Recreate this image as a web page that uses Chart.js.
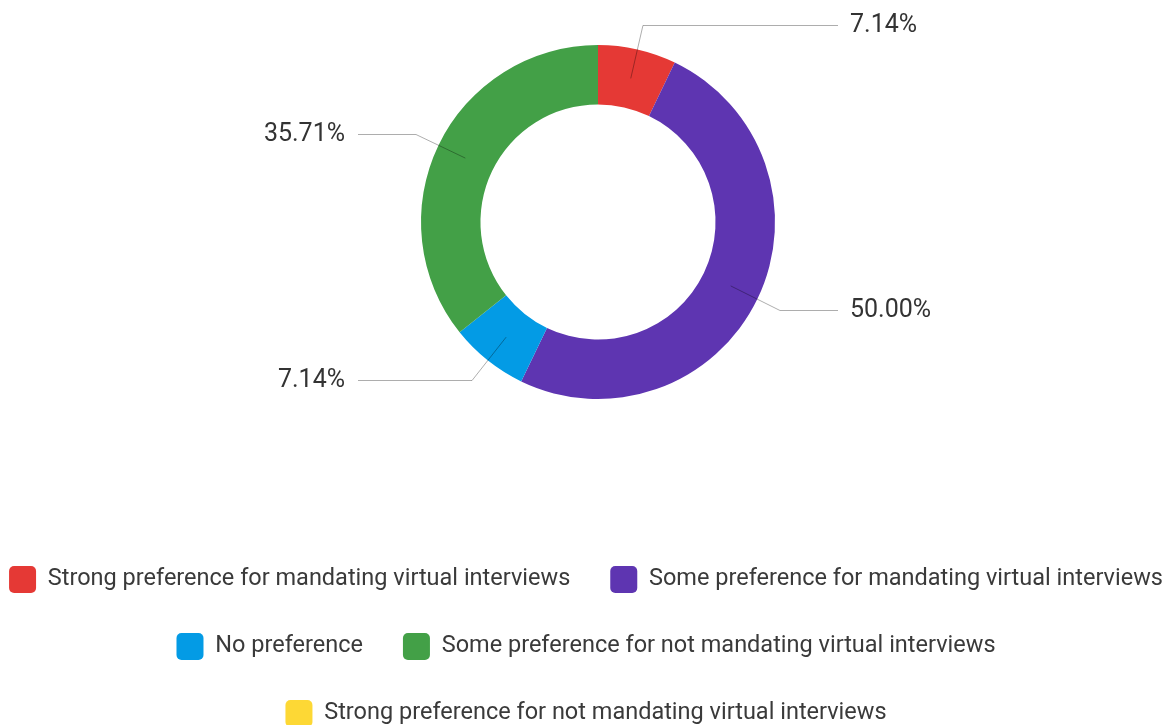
<!DOCTYPE html>
<html>
<head>
<meta charset="utf-8">
<script src="https://cdn.jsdelivr.net/npm/chart.js@4.4.1/dist/chart.umd.min.js"></script>
<style>
  html, body { margin: 0; padding: 0; background: #fff; }
  #wrap { width: 1164px; height: 725px; position: relative; }
</style>
</head>
<body>
<div id="wrap"><canvas id="c"></canvas></div>
<script>
const categories = [
  'Strong preference for mandating virtual interviews',
  'Some preference for mandating virtual interviews',
  'No preference',
  'Some preference for not mandating virtual interviews',
  'Strong preference for not mandating virtual interviews'
];
const values = [7.14, 50.00, 7.14, 35.71, 0];
const colors = ['#E53935', '#5E35B1', '#039BE5', '#43A047', '#FDD835'];

const FONT_FAMILY = 'Roboto, "Liberation Sans", Arial, sans-serif';
const LEGEND_FONT_SIZE = 23.5;
const LABEL_FONT_SIZE = 25;

// shift the plot area a little to the right of the legend's centre
const shiftArea = {
  id: 'shiftArea',
  afterLayout(chart) {
    chart.chartArea.left += 16;
    chart.chartArea.right += 16;
  }
};

const leaderLabels = {
  id: 'leaderLabels',
  afterDatasetsDraw(chart) {
    const ctx = chart.ctx;
    const meta = chart.getDatasetMeta(0);
    const data = chart.data.datasets[0].data;
    meta.data.forEach((arc, i) => {
      const v = data[i];
      if (!v) return;
      const p = arc.getProps(['x', 'y', 'startAngle', 'endAngle', 'innerRadius', 'outerRadius'], true);
      const mid = (p.startAngle + p.endAngle) / 2;
      const cos = Math.cos(mid), sin = Math.sin(mid);
      const r0 = (p.innerRadius + p.outerRadius) / 2;
      const r1 = p.outerRadius + 25;
      const x0 = p.x + cos * r0, y0 = p.y + sin * r0;
      const x1 = p.x + cos * r1;
      const y1 = Math.round(p.y + sin * r1) + 0.5;
      const right = cos >= 0;
      const x2 = p.x + (right ? 240 : -240);
      ctx.save();
      ctx.strokeStyle = 'rgba(0,0,0,0.32)';
      ctx.lineWidth = 1;
      ctx.beginPath();
      ctx.moveTo(x0, y0);
      ctx.lineTo(x1, y1);
      ctx.lineTo(x2, y1);
      ctx.stroke();
      ctx.font = LABEL_FONT_SIZE + 'px ' + FONT_FAMILY;
      ctx.fillStyle = '#333';
      ctx.textBaseline = 'middle';
      ctx.textAlign = right ? 'left' : 'right';
      ctx.fillText(v.toFixed(2) + '%', x2 + (right ? 12 : -13), y1);
      ctx.restore();
    });
  }
};

new Chart(document.getElementById('c'), {
  type: 'doughnut',
  data: {
    labels: categories,
    datasets: [{
      data: values,
      backgroundColor: colors,
      borderWidth: 0,
      hoverOffset: 0,
      clip: false
    }]
  },
  options: {
    responsive: true,
    maintainAspectRatio: false,
    animation: false,
    devicePixelRatio: 1,
    cutout: '66.4%',
    layout: { padding: { top: 45, bottom: -12, left: -43, right: -51 } },
    plugins: {
      tooltip: { enabled: false },
      legend: {
        position: 'bottom',
        align: 'center',
        title: { display: true, text: '', font: { size: 10, lineHeight: 1 }, padding: { top: 117, bottom: 0 } },
        labels: {
          boxWidth: 27,
          boxHeight: 27,
          borderRadius: 5,
          useBorderRadius: true,
          padding: 40,
          color: '#3a3a3a',
          font: { family: FONT_FAMILY, size: LEGEND_FONT_SIZE }
        }
      }
    }
  },
  plugins: [shiftArea, leaderLabels]
});
</script>
</body>
</html>
